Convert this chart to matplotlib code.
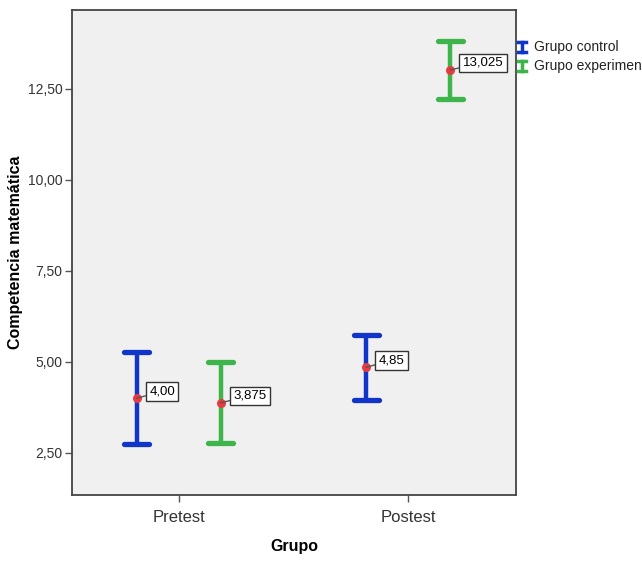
import matplotlib
matplotlib.use("Agg")
import matplotlib.pyplot as plt
from matplotlib.lines import Line2D
import numpy as np

plt.rcParams['font.family'] = ['Liberation Sans', 'DejaVu Sans']

categories = ["Pretest", "Postest"]
groups = ["Grupo control", "Grupo experimental"]
means = {"Grupo control": [4.00, 4.85], "Grupo experimental": [3.875, 13.025]}
lower = {"Grupo control": [2.74, 3.96], "Grupo experimental": [2.76, 12.23]}
upper = {"Grupo control": [5.26, 5.75], "Grupo experimental": [4.99, 13.82]}
mean_labels = {"Grupo control": ["4,00", "4,85"], "Grupo experimental": ["3,875", "13,025"]}
yticks = [2.5, 5.0, 7.5, 10.0, 12.5]
ytick_labels = ["2,50", "5,00", "7,50", "10,00", "12,50"]

colors = {"Grupo control": "#1035C8", "Grupo experimental": "#3DB54A"}
offsets = {"Grupo control": -0.183, "Grupo experimental": 0.183}
cap_half = 0.055
dot_color = "#E83A3F"

fig = plt.figure(figsize=(6.42, 5.61), dpi=100)
ax = fig.add_axes([72/642, 1-495/561, (516-72)/642, (495-10)/561])
ax.set_facecolor("#F0F0F0")

x = np.arange(len(categories))
for g in groups:
    xs = x + offsets[g]
    m = np.array(means[g])
    lo = np.array(lower[g])
    hi = np.array(upper[g])
    ax.vlines(xs, lo, hi, colors=colors[g], lw=3.2, zorder=2, capstyle='butt')
    ax.hlines(lo, xs - cap_half, xs + cap_half, colors=colors[g], lw=3.8,
              zorder=2, capstyle='round')
    ax.hlines(hi, xs - cap_half, xs + cap_half, colors=colors[g], lw=3.8,
              zorder=2, capstyle='round')
    ax.plot(xs, m, 'o', color=dot_color, markersize=6.5, zorder=3,
            markeredgewidth=0)
    for xi, mi, lab in zip(xs, m, mean_labels[g]):
        ax.annotate(lab, xy=(xi, mi), xytext=(9, 5), textcoords='offset points',
                    fontsize=9.5, ha='left', va='center', color='black',
                    bbox=dict(boxstyle='square,pad=0.25', fc='white', ec='#333333', lw=1.0),
                    arrowprops=dict(arrowstyle='-', color='#555555', lw=1.0,
                                    shrinkA=0, shrinkB=0),
                    zorder=4)

ax.set_xlim(-0.465, 1.47)
ax.set_ylim(1.34, 14.67)
ax.set_xticks(x)
ax.set_xticklabels(categories, fontsize=12, color='#333333')
ax.set_yticks(yticks)
ax.set_yticklabels(ytick_labels, fontsize=10, color='#333333')
ax.tick_params(axis='both', direction='out', length=5, width=1, color='#555555')
ax.tick_params(axis='x', pad=6)
ax.tick_params(axis='y', pad=2)
for s in ax.spines.values():
    s.set_color('#444444')
    s.set_linewidth(1.3)

ax.set_xlabel("Grupo", fontsize=11.5, fontweight='bold', labelpad=10)
ax.set_ylabel("Competencia matemática", fontsize=11.5, fontweight='bold')
ax.yaxis.set_label_coords(-(72 - 23) / 444, 0.5)

# legend (outside, clipped at figure edge like the original)
leg_y = [1-47/561, 1-66/561]
for g, ly in zip(groups, leg_y):
    cx = 522/642
    h = 5/561
    w = 4/642
    fig.add_artist(Line2D([cx, cx], [ly-h, ly+h], color=colors[g], lw=2.5, transform=fig.transFigure))
    fig.add_artist(Line2D([cx-w, cx+w], [ly+h, ly+h], color=colors[g], lw=2.5, transform=fig.transFigure))
    fig.add_artist(Line2D([cx-w, cx+w], [ly-h, ly-h], color=colors[g], lw=2.5, transform=fig.transFigure))
    fig.text(534/642, ly, g, fontsize=10, va='center', ha='left', color='#222222')

fig.savefig("out.png", dpi=100)
